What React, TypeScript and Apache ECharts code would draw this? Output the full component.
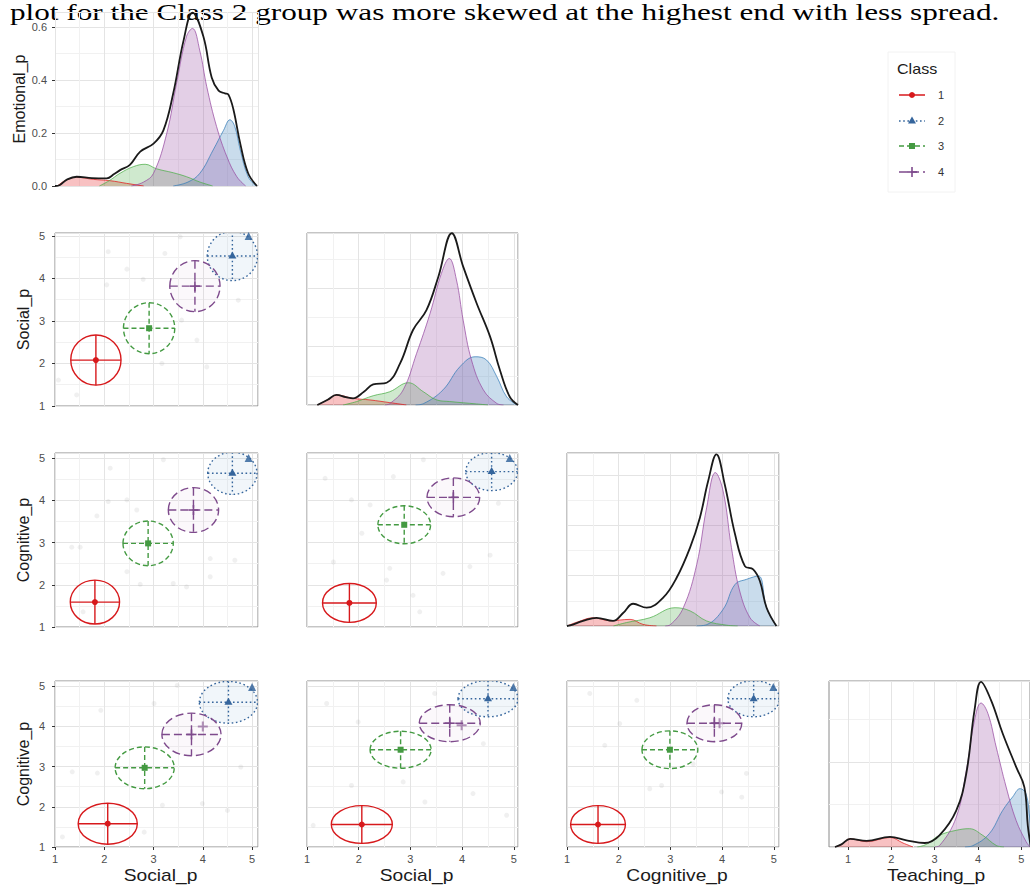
import React, { useEffect, useRef } from "react";
import * as echarts from "echarts";

// ---------------- data ----------------
const classLabels = ["1", "2", "3", "4"];
const xTickValues = [1, 2, 3, 4, 5];
const rowTitles = ["Emotional_p", "Social_p", "Cognitive_p", "Cognitive_p"];
const colTitles = ["Social_p", "Social_p", "Cognitive_p", "Teaching_p"];
const headline = "plot for the Class 2 group was more skewed at the highest end with less spread.";

// Emotional_p density (row 1)
const emoTotal = [[1.0, 0], [1.1, 0.004], [1.25, 0.025], [1.44, 0.035], [1.75, 0.03], [2.05, 0.029], [2.2, 0.045], [2.32, 0.06], [2.52, 0.08], [2.73, 0.13], [3.0, 0.16], [3.2, 0.21], [3.4, 0.35], [3.61, 0.55], [3.79, 0.655], [4.01, 0.565], [4.18, 0.41], [4.32, 0.36], [4.45, 0.35], [4.52, 0.345], [4.62, 0.29], [4.76, 0.16], [4.92, 0.048], [5.1, 0]];
const emoClass1 = [[1.05, 0], [1.2, 0.02], [1.44, 0.033], [1.78, 0.025], [2.12, 0.02], [2.45, 0.01], [2.8, 0]];
const emoClass2 = [[3.4, 0], [3.7, 0.015], [3.94, 0.048], [4.21, 0.136], [4.42, 0.21], [4.55, 0.25], [4.65, 0.224], [4.76, 0.136], [4.92, 0.035], [5.08, 0]];
const emoClass3 = [[1.9, 0], [2.1, 0.02], [2.32, 0.048], [2.59, 0.073], [2.83, 0.082], [3.06, 0.065], [3.4, 0.05], [3.67, 0.035], [3.94, 0.015], [4.2, 0]];
const emoClass4 = [[2.55, 0], [2.8, 0.015], [3.0, 0.048], [3.27, 0.2], [3.47, 0.39], [3.67, 0.565], [3.79, 0.595], [3.94, 0.51], [4.08, 0.375], [4.28, 0.224], [4.49, 0.11], [4.69, 0.035], [4.87, 0]];

// Social_p density (row 2)
const socTotal = [[1.2, 0], [1.4, 0.02], [1.57, 0.038], [1.75, 0.03], [1.89, 0.025], [2.1, 0.05], [2.28, 0.078], [2.54, 0.084], [2.8, 0.157], [3.05, 0.283], [3.31, 0.358], [3.54, 0.484], [3.8, 0.648], [4.02, 0.522], [4.28, 0.384], [4.54, 0.258], [4.73, 0.132], [4.92, 0.031], [5.08, 0]];
const socClass1 = [[1.2, 0], [1.4, 0.02], [1.57, 0.038], [1.89, 0.025], [2.22, 0.019], [2.6, 0.009], [2.92, 0]];
const socClass2 = [[3.1, 0], [3.25, 0.005], [3.63, 0.057], [3.96, 0.145], [4.25, 0.182], [4.47, 0.17], [4.67, 0.107], [4.86, 0.031], [5.06, 0]];
const socClass3 = [[1.7, 0], [1.96, 0.013], [2.28, 0.035], [2.6, 0.05], [2.96, 0.084], [3.25, 0.05], [3.51, 0.019], [3.76, 0.013], [4.28, 0.004], [4.5, 0]];
const socClass4 = [[2.5, 0], [2.6, 0.005], [2.86, 0.057], [3.12, 0.195], [3.38, 0.346], [3.6, 0.497], [3.75, 0.553], [3.89, 0.472], [4.02, 0.32], [4.18, 0.17], [4.41, 0.057], [4.67, 0.006], [4.8, 0]];

// Cognitive_p density (row 3)
const cogTotal = [[1.0, 0], [1.06, 0.002], [1.31, 0.019], [1.57, 0.031], [1.89, 0.019], [2.09, 0.05], [2.28, 0.084], [2.54, 0.069], [2.86, 0.107], [3.12, 0.182], [3.38, 0.296], [3.57, 0.409], [3.73, 0.547], [3.89, 0.648], [4.05, 0.535], [4.25, 0.346], [4.44, 0.226], [4.6, 0.214], [4.73, 0.17], [4.86, 0.069], [5.05, 0]];
const cogClass1 = [[1.0, 0], [1.2, 0.015], [1.51, 0.031], [1.83, 0.02], [2.22, 0.025], [2.47, 0.006], [2.73, 0]];
const cogClass2 = [[3.5, 0], [3.7, 0.005], [4.02, 0.063], [4.25, 0.157], [4.47, 0.176], [4.7, 0.189], [4.86, 0.069], [5.05, 0]];
const cogClass3 = [[1.9, 0], [2.15, 0.013], [2.6, 0.031], [3.09, 0.069], [3.38, 0.057], [3.7, 0.019], [4.09, 0.003], [4.3, 0]];
const cogClass4 = [[2.9, 0], [3.0, 0.005], [3.25, 0.069], [3.51, 0.233], [3.7, 0.446], [3.87, 0.579], [4.02, 0.509], [4.18, 0.296], [4.34, 0.132], [4.54, 0.031], [4.73, 0]];

// Teaching_p density (row 4)
const teaTotal = [[0.7, 0], [0.85, 0.01], [1.05, 0.031], [1.43, 0.023], [1.97, 0.038], [2.35, 0.025], [2.77, 0.015], [3.11, 0.044], [3.5, 0.138], [3.73, 0.277], [3.92, 0.516], [4.07, 0.623], [4.3, 0.554], [4.57, 0.428], [4.88, 0.302], [5.07, 0.226], [5.15, 0.08], [5.22, 0]];
const teaClass1 = [[0.7, 0], [0.85, 0.01], [1.05, 0.031], [1.43, 0.02], [1.97, 0.036], [2.27, 0.015], [2.5, 0]];
const teaClass2 = [[3.7, 0], [3.88, 0.005], [4.26, 0.05], [4.57, 0.138], [4.8, 0.189], [4.97, 0.22], [5.11, 0.2], [5.2, 0.1], [5.3, 0]];
const teaClass3 = [[2.6, 0], [2.81, 0.01], [3.11, 0.044], [3.5, 0.063], [3.8, 0.069], [4.11, 0.044], [4.42, 0.006], [4.6, 0]];
const teaClass4 = [[3.0, 0], [3.11, 0.005], [3.5, 0.113], [3.73, 0.289], [3.92, 0.478], [4.07, 0.543], [4.23, 0.503], [4.42, 0.377], [4.65, 0.226], [4.88, 0.1], [5.11, 0.02], [5.2, 0]];

// class means and spreads per scatter panel: [meanX, meanY, sdX, sdY] for classes 1..4
const ell21 = [[1.83, 2.08, 0.51, 0.59], [4.6, 4.53, 0.51, 0.58], [2.91, 2.83, 0.52, 0.6], [3.84, 3.82, 0.51, 0.6]];
const ell31 = [[1.81, 1.59, 0.5, 0.52], [4.6, 4.64, 0.5, 0.5], [2.89, 2.98, 0.51, 0.53], [3.81, 3.77, 0.51, 0.53]];
const ell32 = [[1.82, 1.57, 0.52, 0.46], [4.57, 4.68, 0.5, 0.45], [2.88, 3.42, 0.51, 0.45], [3.83, 4.07, 0.51, 0.46]];
const ell41 = [[2.07, 1.58, 0.6, 0.51], [4.52, 4.6, 0.59, 0.52], [2.82, 2.97, 0.6, 0.52], [3.77, 3.8, 0.6, 0.53]];
const ell42 = [[2.06, 1.56, 0.59, 0.47], [4.5, 4.69, 0.58, 0.45], [2.81, 3.42, 0.59, 0.46], [3.76, 4.08, 0.59, 0.46]];
const ell43 = [[1.6, 1.56, 0.53, 0.47], [4.61, 4.69, 0.5, 0.45], [2.99, 3.42, 0.54, 0.47], [3.85, 4.08, 0.53, 0.46]];

// dense raw observations (class 2 triangles, class 4 crosses)
const dense2_21 = [[4.93, 5.0]];
const dense2_31 = [[4.93, 5.0]];
const dense2_32 = [[4.92, 5.0]];
const dense2_41 = [[5.0, 4.98]];
const dense2_42 = [[4.99, 4.98]];
const dense2_43 = [[4.99, 4.98]];
const dense4_41 = [[4.0, 4.0]];
const dense4_42 = [[3.99, 4.03]];
const dense4_43 = [[3.95, 4.08]];

// faint raw observations
const grey21 = [[2.08, 4.63], [3.23, 4.59], [2.46, 4.22], [3.54, 4.98], [2.79, 3.98], [2.05, 3.85], [4.72, 3.49], [3.57, 3.02], [4.08, 1.92], [3.17, 2.0], [1.44, 1.26], [1.07, 1.61], [3.88, 2.55]];
const grey31 = [[2.08, 3.97], [2.46, 4.01], [2.66, 3.77], [1.85, 3.63], [1.34, 2.89], [1.51, 2.89], [2.46, 2.31], [2.73, 2.01], [3.4, 2.03], [3.67, 1.95], [4.15, 2.62], [4.65, 2.58], [4.15, 2.19], [3.2, 4.96], [2.12, 4.76], [1.57, 1.36]];
const grey32 = [[1.35, 4.52], [1.86, 4.01], [2.22, 3.89], [2.67, 4.56], [3.25, 4.96], [2.06, 3.22], [2.54, 2.11], [3.05, 1.75], [2.6, 2.39], [3.63, 2.27], [4.15, 2.43], [4.54, 2.7], [4.7, 3.93], [1.51, 2.54], [3.18, 1.36]];
const grey41 = [[1.93, 4.4], [3.48, 5.02], [1.35, 2.87], [1.86, 2.84], [3.18, 2.04], [3.99, 2.08], [4.5, 1.91], [4.77, 2.99], [3.01, 4.57], [1.15, 1.25], [2.81, 1.37]];
const grey42 = [[1.38, 4.57], [1.99, 4.11], [3.47, 4.82], [1.86, 2.53], [2.86, 2.62], [3.28, 2.12], [4.21, 2.33], [4.86, 1.79], [4.41, 3.57], [1.12, 1.54]];
const grey43 = [[1.44, 4.82], [2.02, 4.07], [2.6, 2.45], [2.83, 2.53], [2.35, 4.65], [1.73, 3.53], [3.99, 2.37], [4.38, 2.24], [4.47, 2.83], [3.44, 3.07]];

// ---------------- styling ----------------
const COLORS = ["#E41A1C", "#377EB8", "#4DAF4A", "#984EA3"];
const ELL_STROKE = ["#d7191c", "#35659c", "#449a42", "#7e4a8c"];
const DASHES: (number[] | undefined)[] = [undefined, [1.6, 2.6], [5, 3], [8, 4]];
const ELL_FILL = ["none", "rgba(55,126,184,0.07)", "none", "rgba(152,78,163,0.04)"];
const FONT = "Liberation Sans, Arial, sans-serif";
const MAJOR = "#e4e4e4";
const MINOR = "#f1f1f1";
const BORDER = "#8a8a8a";

const colLeft = [55, 307, 567, 829];
const colWidth = [203, 211, 212, 201];
const colRange = [[1, 5.12], [1, 5.08], [1, 5.1], [0.562, 5.2]];
const rowTop = [12, 233, 453, 681];
const rowRange = [null, [1, 5.07], [1, 5.12], [1, 5.13]];

function renderEllipse(params: any, api: any) {
  const k = api.value(4);
  const c = api.coord([api.value(0), api.value(1)]);
  const s = api.size([api.value(2), api.value(3)]);
  const rx = s[0];
  const ry = s[1];
  const col = ELL_STROKE[k];
  const base: any = { stroke: col, lineWidth: 1.4, fill: "none" };
  if (DASHES[k]) base.lineDash = DASHES[k];
  const cx = c[0];
  const cy = c[1];
  const children: any[] = [
    { type: "ellipse", shape: { cx, cy, rx, ry }, style: { ...base, fill: ELL_FILL[k] } },
    { type: "line", shape: { x1: cx - rx, y1: cy, x2: cx + rx, y2: cy }, style: { ...base } },
    { type: "line", shape: { x1: cx, y1: cy - ry, x2: cx, y2: cy + ry }, style: { ...base } },
  ];
  if (k === 0) children.push({ type: "circle", shape: { cx, cy, r: 3 }, style: { fill: col } });
  if (k === 1) children.push({ type: "polygon", shape: { points: [[cx, cy - 4.5], [cx - 4, cy + 2.5], [cx + 4, cy + 2.5]] }, style: { fill: col } });
  if (k === 2) children.push({ type: "rect", shape: { x: cx - 3, y: cy - 3, width: 6, height: 6 }, style: { fill: col } });
  if (k === 3) {
    children.push({ type: "line", shape: { x1: cx - 5, y1: cy, x2: cx + 5, y2: cy }, style: { stroke: col, lineWidth: 1.6 } });
    children.push({ type: "line", shape: { x1: cx, y1: cy - 5, x2: cx, y2: cy + 5 }, style: { stroke: col, lineWidth: 1.6 } });
  }
  return { type: "group", children };
}

const PLUS = "path://M4,0H6V4H10V6H6V10H4V6H0V4H4Z";

function buildOption() {
  const grid: any[] = [];
  const xAxis: any[] = [];
  const yAxis: any[] = [];
  const series: any[] = [];

  const addGrid = (col: number, row: number, height: number, border: boolean) => {
    const gi = grid.length;
    grid.push({
      left: colLeft[col], top: rowTop[row], width: colWidth[col], height,
      show: border, borderColor: BORDER, borderWidth: 1, backgroundColor: "transparent",
    });
    const bottom = row === 3;
    const xr = colRange[col];
    const xa: any = {
      gridIndex: gi, type: "value", min: xr[0], max: xr[1],
      splitNumber: 5,
      axisLine: { show: false },
      axisTick: { show: bottom, length: 3, lineStyle: { color: "#333" } },
      axisLabel: {
        show: bottom, fontSize: 11, color: "#4d4d4d", margin: 6, fontFamily: FONT,
        formatter: (v: number) => (Math.abs(v - Math.round(v)) < 1e-6 ? String(Math.round(v)) : ""),
      },
      splitLine: { show: true, lineStyle: { color: MAJOR, width: 1 } },
      minorTick: { show: false, splitNumber: 2 },
      minorSplitLine: { show: true, lineStyle: { color: MINOR, width: 1 } },
    };
    if (col !== 3) {
      xa.interval = 1;
      xa.axisLabel.showMinLabel = true;
      xa.axisLabel.showMaxLabel = false;
    } else {
      xa.axisLabel.customValues = xTickValues;
      xa.axisTick.customValues = xTickValues;
    }
    xAxis.push(xa);
    return gi;
  };

  const densityY = (gi: number, max: number, interval: number, labelled: boolean, name?: string) => {
    yAxis.push({
      gridIndex: gi, type: "value", min: 0, max, interval,
      axisLine: { show: false },
      axisTick: { show: labelled, length: 3, lineStyle: { color: "#333" } },
      axisLabel: {
        show: labelled, fontSize: 11, color: "#4d4d4d", margin: 8, fontFamily: FONT,
        showMaxLabel: false, formatter: (v: number) => v.toFixed(1),
      },
      splitLine: { show: true, lineStyle: { color: MAJOR } },
      minorTick: { show: false, splitNumber: 2 },
      minorSplitLine: { show: true, lineStyle: { color: MINOR } },
      name: name || "", nameLocation: "middle", nameGap: 24, nameRotate: 90,
      nameTextStyle: { fontSize: 16, color: "#1a1a1a", fontFamily: FONT },
    });
  };

  const scatterY = (gi: number, row: number, labelled: boolean, name?: string) => {
    const yr = rowRange[row] as number[];
    yAxis.push({
      gridIndex: gi, type: "value", min: yr[0], max: yr[1], interval: 1,
      axisLine: { show: false },
      axisTick: { show: labelled, length: 3, lineStyle: { color: "#333" } },
      axisLabel: { show: labelled, fontSize: 11, color: "#4d4d4d", margin: 10, fontFamily: FONT, showMaxLabel: false },
      splitLine: { show: true, lineStyle: { color: MAJOR } },
      minorTick: { show: false, splitNumber: 2 },
      minorSplitLine: { show: true, lineStyle: { color: MINOR } },
      name: name || "", nameLocation: "middle", nameGap: 24, nameRotate: 90,
      nameTextStyle: { fontSize: 16, color: "#1a1a1a", fontFamily: FONT },
    });
  };

  const addDensity = (gi: number, classes: number[][][], total: number[][]) => {
    classes.forEach((d, k) => {
      series.push({
        type: "line", xAxisIndex: gi, yAxisIndex: gi, data: d, smooth: 0.4,
        symbol: "none", silent: true,
        lineStyle: { color: COLORS[k], width: 1, opacity: 0.75 },
        areaStyle: { color: COLORS[k], opacity: 0.27 },
        z: 2,
      });
    });
    series.push({
      type: "line", xAxisIndex: gi, yAxisIndex: gi, data: total, smooth: 0.4,
      symbol: "none", silent: true,
      lineStyle: { color: "#1a1a1a", width: 1.8 }, z: 3,
    });
  };

  const addScatter = (gi: number, ell: number[][], grey: number[][], dense2: number[][], dense4?: number[][]) => {
    series.push({
      type: "scatter", xAxisIndex: gi, yAxisIndex: gi, data: grey, symbolSize: 5, silent: true,
      itemStyle: { color: "rgba(140,140,140,0.16)" }, z: 2,
    });
    series.push({
      type: "scatter", xAxisIndex: gi, yAxisIndex: gi, data: dense2, symbol: "triangle", symbolSize: 8, silent: true,
      itemStyle: { color: ELL_STROKE[1], opacity: 0.85 }, z: 3,
    });
    if (dense4) {
      series.push({
        type: "scatter", xAxisIndex: gi, yAxisIndex: gi, data: dense4, symbol: PLUS, symbolSize: 10, silent: true,
        itemStyle: { color: ELL_STROKE[3], opacity: 0.6 }, z: 3,
      });
    }
    series.push({
      type: "custom", xAxisIndex: gi, yAxisIndex: gi, clip: true, silent: true,
      data: ell.map((e, k) => [e[0], e[1], e[2], e[3], k]),
      encode: { x: 0, y: 1 },
      renderItem: renderEllipse, z: 5,
    });
  };

  // row 1
  let g = addGrid(0, 0, 174, false);
  densityY(g, 0.657, 0.2, true, rowTitles[0]);
  addDensity(g, [emoClass1, emoClass2, emoClass3, emoClass4], emoTotal);

  // row 2
  g = addGrid(0, 1, 173, true);
  scatterY(g, 1, true, rowTitles[1]);
  addScatter(g, ell21, grey21, dense2_21);
  g = addGrid(1, 1, 172, true);
  densityY(g, 0.649, 0.22, false);
  addDensity(g, [socClass1, socClass2, socClass3, socClass4], socTotal);

  // row 3
  g = addGrid(0, 2, 174, true);
  scatterY(g, 2, true, rowTitles[2]);
  addScatter(g, ell31, grey31, dense2_31);
  g = addGrid(1, 2, 174, true);
  scatterY(g, 2, false);
  addScatter(g, ell32, grey32, dense2_32);
  g = addGrid(2, 2, 173, true);
  densityY(g, 0.653, 0.19, false);
  addDensity(g, [cogClass1, cogClass2, cogClass3, cogClass4], cogTotal);

  // row 4
  g = addGrid(0, 3, 166, true);
  scatterY(g, 3, true, rowTitles[3]);
  addScatter(g, ell41, grey41, dense2_41, dense4_41);
  g = addGrid(1, 3, 166, true);
  scatterY(g, 3, false);
  addScatter(g, ell42, grey42, dense2_42, dense4_42);
  g = addGrid(2, 3, 166, true);
  scatterY(g, 3, false);
  addScatter(g, ell43, grey43, dense2_43, dense4_43);
  g = addGrid(3, 3, 166, true);
  densityY(g, 0.626, 0.32, false);
  addDensity(g, [teaClass1, teaClass2, teaClass3, teaClass4], teaTotal);

  // graphics: headline, x titles, legend
  const graphic: any[] = [];
  graphic.push({
    type: "text", x: 10, y: 0, scaleX: 1.3, silent: true,
    style: { text: headline, fontSize: 24, fontFamily: "Liberation Serif, Times New Roman, serif", fill: "#000", align: "left", verticalAlign: "top" },
  });
  colTitles.forEach((t, i) => {
    const cx = i === 3 ? 936 : colLeft[i] + colWidth[i] / 2 + 4;
    graphic.push({
      type: "text", x: cx, y: 876, scaleX: 1.2, silent: true,
      style: { text: t, fontSize: 16, fontFamily: FONT, fill: "#1a1a1a", align: "center", verticalAlign: "middle" },
    });
  });
  graphic.push({
    type: "rect", shape: { x: 888, y: 52, width: 67, height: 140 }, silent: true,
    style: { fill: "none", stroke: "#f2f2f2", lineWidth: 1 },
  });
  graphic.push({
    type: "text", x: 897, y: 69, scaleX: 1.15, silent: true,
    style: { text: "Class", fontSize: 14, fontFamily: FONT, fill: "#1a1a1a", align: "left", verticalAlign: "middle" },
  });
  const legY = [95, 121, 146, 172];
  classLabels.forEach((lab, k) => {
    const y = legY[k];
    const ls: any = { stroke: ELL_STROKE[k], lineWidth: 1.5 };
    if (DASHES[k]) ls.lineDash = DASHES[k];
    graphic.push({ type: "line", shape: { x1: 899, y1: y, x2: 925, y2: y }, style: ls, silent: true });
    const cx = 912;
    const col = ELL_STROKE[k];
    if (k === 0) graphic.push({ type: "circle", shape: { cx, cy: y, r: 3 }, style: { fill: col }, silent: true });
    if (k === 1) graphic.push({ type: "polygon", shape: { points: [[cx, y - 4.5], [cx - 4, y + 2.5], [cx + 4, y + 2.5]] }, style: { fill: col }, silent: true });
    if (k === 2) graphic.push({ type: "rect", shape: { x: cx - 3, y: y - 3, width: 6, height: 6 }, style: { fill: col }, silent: true });
    if (k === 3) {
      graphic.push({ type: "line", shape: { x1: cx - 5, y1: y, x2: cx + 5, y2: y }, style: { stroke: col, lineWidth: 1.6 }, silent: true });
      graphic.push({ type: "line", shape: { x1: cx, y1: y - 5, x2: cx, y2: y + 5 }, style: { stroke: col, lineWidth: 1.6 }, silent: true });
    }
    graphic.push({
      type: "text", x: 938, y, silent: true,
      style: { text: lab, fontSize: 11, fontFamily: FONT, fill: "#333", align: "left", verticalAlign: "middle" },
    });
  });

  return {
    animation: false,
    backgroundColor: "#ffffff",
    textStyle: { fontFamily: FONT },
    grid, xAxis, yAxis, series, graphic,
  };
}

export default function App() {
  const ref = useRef<HTMLDivElement>(null);
  useEffect(() => {
    if (!ref.current) return;
    const chart = echarts.init(ref.current, undefined, { renderer: "svg" });
    chart.setOption(buildOption() as any);
    return () => chart.dispose();
  }, []);
  return (
    <div
      ref={ref}
      style={{ position: "absolute", left: 0, top: 0, width: 1030, height: 886, background: "#fff" }}
    />
  );
}
